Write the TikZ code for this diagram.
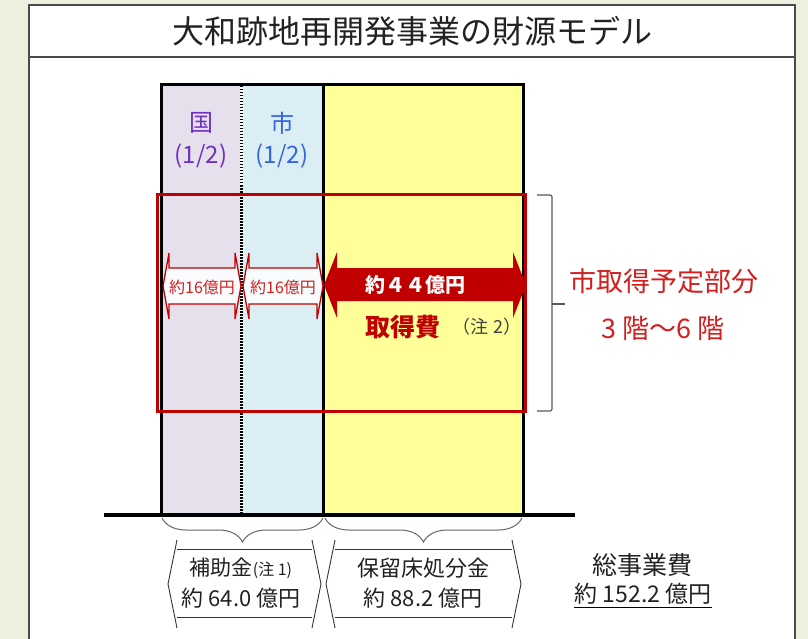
\documentclass[tikz,border=0pt]{standalone}
\usepackage{fontspec}
\setmainfont{Noto Sans CJK JP}
\usetikzlibrary{decorations.pathreplacing}
\definecolor{bgg}{HTML}{EBF1DE}
\definecolor{framec}{HTML}{4A4A4A}
\definecolor{colA}{HTML}{E6E0EC}
\definecolor{colB}{HTML}{DAEEF3}
\definecolor{colC}{HTML}{FFFF99}
\definecolor{dred}{HTML}{C00000}
\definecolor{lred}{HTML}{D02020}
\definecolor{kuni}{HTML}{7030C0}
\definecolor{shi}{HTML}{3366E0}
\definecolor{txt}{HTML}{222222}
\tikzset{
  lbl/.style={inner sep=0pt, text=txt},
  fs/.style={font=\fontsize{#1}{#1}\selectfont},
  colline/.style={line width=3pt, black},
  smallarrow/.style={draw=dred, line width=1.3pt, fill=white, fill opacity=0.85},
  bigarrow/.style={fill=dred},
  chev/.style={draw=black!80, line width=0.9pt},
  bracketline/.style={draw=black!65, line width=1.2pt},
}
\begin{document}
\begin{tikzpicture}[x=1pt,y=-1pt]
\useasboundingbox (0,0) rectangle (808,639);
% background and frame
\fill[bgg] (0,0) rectangle (808,639);
\fill[white] (29,5) rectangle (795,660);
\draw[framec, line width=2pt] (29,660) -- (29,5) -- (795,5) -- (795,660);
\draw[framec, line width=1.3pt] (29,57) -- (795,57);
\node[lbl, fs=32] (title) at (412,31) {大和跡地再開発事業の財源モデル};
% columns
\fill[colA] (161,85) rectangle (241,515);
\fill[colB] (241,85) rectangle (323,515);
\fill[colC] (323,85) rectangle (523,515);
\draw[colline] (161,516) -- (161,85) -- (523,85) -- (523,516);
\draw[colline] (323,85) -- (323,516);
\draw[line width=3pt, white] (241,86) -- (241,514);
\draw[line width=3pt, black, dash pattern=on 1.5pt off 1.5pt] (241,86) -- (241,514);
% column labels
\node[lbl, fs=24, text=kuni] (kuni) at (201,123) {国};
\node[lbl, fs=24, text=kuni] (kunihalf) at (201,156) {(1/2)};
\node[lbl, fs=24, text=shi] (shi) at (282,123) {市};
\node[lbl, fs=24, text=shi] (shihalf) at (282,156) {(1/2)};
% red frame
\draw[dred, line width=3pt] (157,195) rectangle (525,411);
% small arrows
\path[smallarrow] (163,286) -- (169,253) -- (169,268) -- (235,268) -- (235,253) -- (241,286)
  -- (235,319) -- (235,304) -- (169,304) -- (169,319) -- cycle;
\node[lbl, fs=16, text=lred] (a1) at (202,287) {約16億円};
\path[smallarrow] (243,286) -- (249,253) -- (249,268) -- (317,268) -- (317,253) -- (323,286)
  -- (317,319) -- (317,304) -- (249,304) -- (249,319) -- cycle;
\node[lbl, fs=16, text=lred] (a2) at (283,287) {約16億円};
% big arrow
\path[bigarrow] (324,285) -- (337,252) -- (337,268) -- (513,268) -- (513,252) -- (526,285)
  -- (513,318) -- (513,301) -- (337,301) -- (337,318) -- cycle;
\node[lbl, text=white, font=\bfseries\fontsize{20}{20}\selectfont] (a3) at (415,285) {約４４億円};
\node[lbl, text=dred, font=\bfseries\fontsize{25}{25}\selectfont] (cost) at (403,327) {取得費};
\node[lbl, fs=18, text=black!75] (note2) at (487,327) {（注 2）};
% right bracket
\draw[bracketline, rounded corners=2pt] (537,195) -- (552,195) -- (552,411) -- (537,411);
\draw[bracketline] (552,304) -- (565,304);
\node[lbl, fs=27, text=lred] (part1) at (664,281) {市取得予定部分};
\node[lbl, fs=27, text=lred] (part2) at (663,328) {3 階～6 階};
% ground line
\draw[line width=4pt, black] (104,515) -- (575,515);
% braces
\draw[black!60, line width=1pt, decorate, decoration={brace, mirror, amplitude=24pt}] (162,518) -- (323,518);
\draw[black!60, line width=1pt, decorate, decoration={brace, mirror, amplitude=24pt}] (325,518) -- (522,518);
% chevron boxes
\draw[chev] (177,540) -- (168,584) -- (177,628);
\draw[chev] (312,540) -- (321,584) -- (312,628);
\draw[chev] (177,549) -- (312,549);
\draw[chev] (177,617) -- (312,617);
\node[lbl, fs=21] (sub1) at (241,568) {補助金{\fontsize{16}{16}\selectfont (注 1)}};
\node[lbl, fs=22] (sub2) at (241,598) {約 64.0 億円};
\draw[chev] (335,540) -- (326,584) -- (335,628);
\draw[chev] (512,540) -- (521,584) -- (512,628);
\draw[chev] (335,549) -- (512,549);
\draw[chev] (335,617) -- (512,617);
\node[lbl, fs=22] (res1) at (423,568) {保留床処分金};
\node[lbl, fs=22] (res2) at (423,598) {約 88.2 億円};
% total
\node[lbl, fs=25] (tot1) at (642,565) {総事業費};
\node[lbl, fs=23] (tot2) at (643,594) {約 152.2 億円};
\draw[black, line width=1.3pt] ([yshift=-3pt]tot2.south west) -- ([yshift=-3pt]tot2.south east);
\end{tikzpicture}
\end{document}
